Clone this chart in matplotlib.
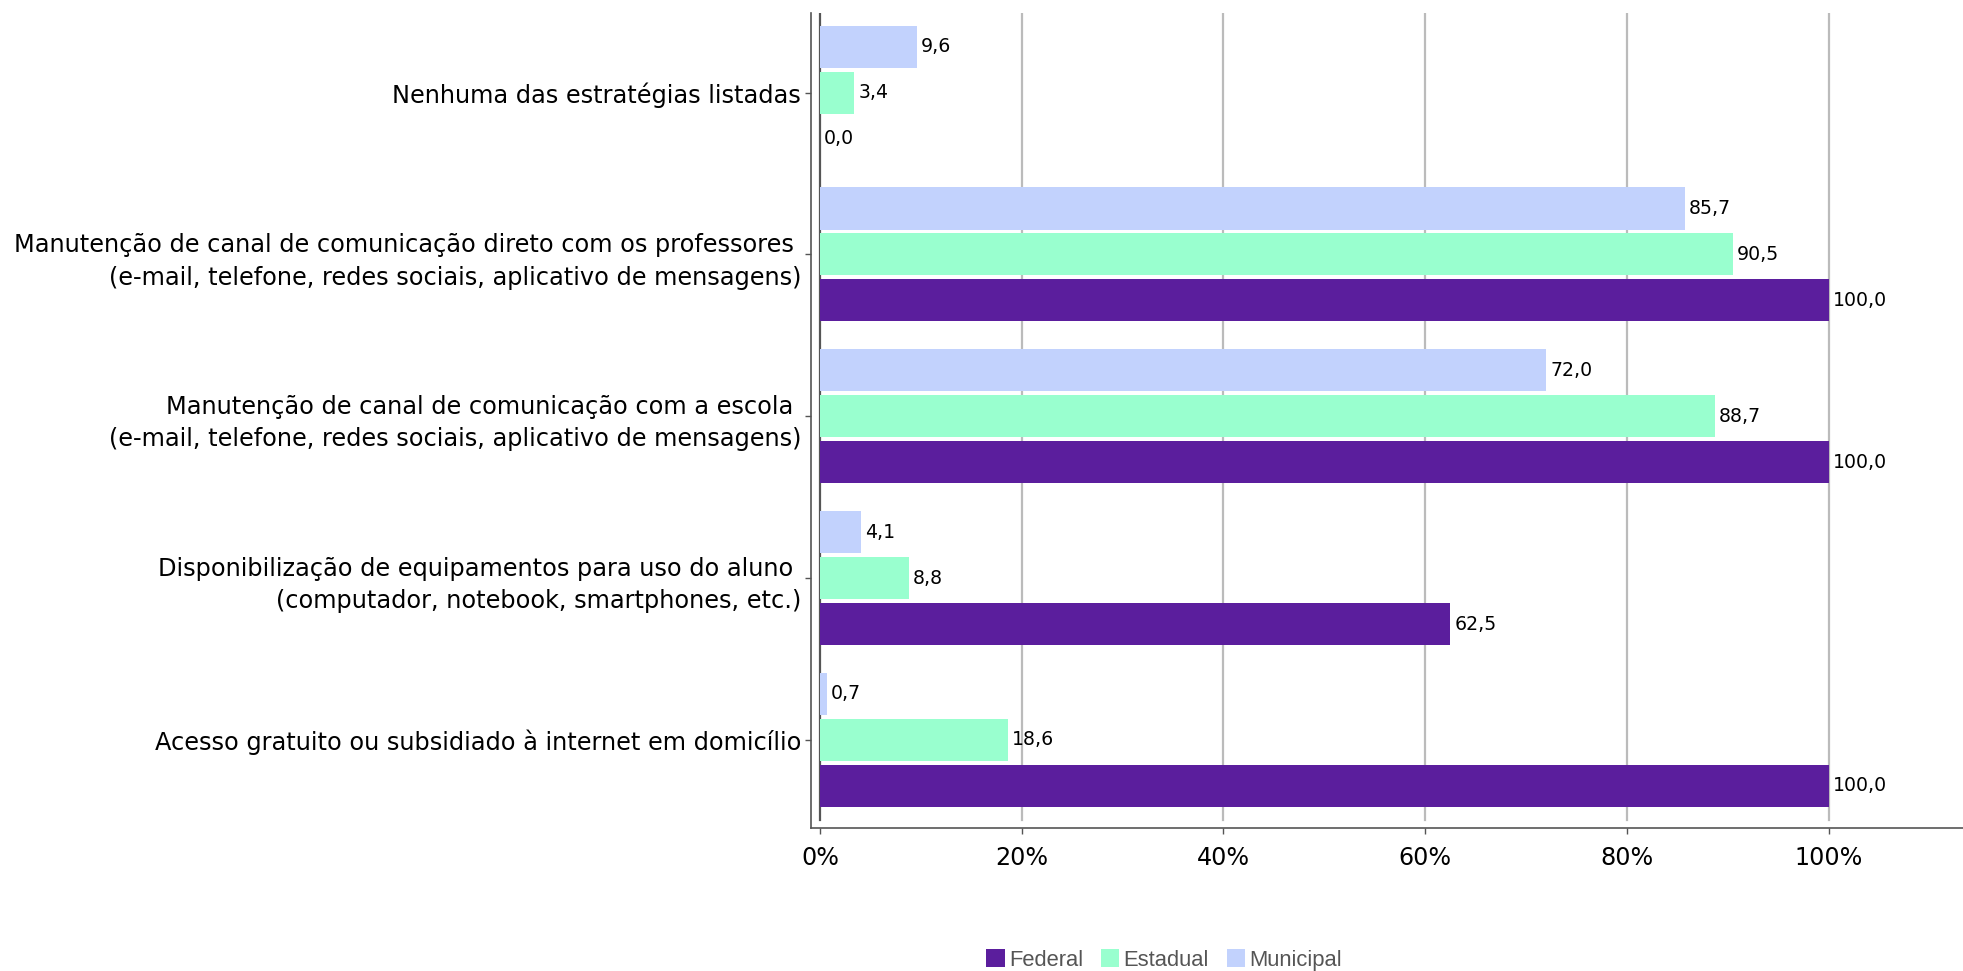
import matplotlib
matplotlib.use('Agg')
import matplotlib.pyplot as plt
import numpy as np

# Estratégias (de baixo para cima) e percentuais por rede
categorias = [
    'Acesso gratuito ou subsidiado à internet em domicílio',
    'Disponibilização de equipamentos para uso do aluno \n(computador, notebook, smartphones, etc.)',
    'Manutenção de canal de comunicação com a escola \n(e-mail, telefone, redes sociais, aplicativo de mensagens)',
    'Manutenção de canal de comunicação direto com os professores \n(e-mail, telefone, redes sociais, aplicativo de mensagens)',
    'Nenhuma das estratégias listadas',
]
federal = [100.0, 62.5, 100.0, 100.0, 0.0]
estadual = [18.6, 8.8, 88.7, 90.5, 3.4]
municipal = [0.7, 4.1, 72.0, 85.7, 9.6]

series = ['Federal', 'Estadual', 'Municipal']
cores = ['#5b1e9d', '#99ffcf', '#c2d2fd']
xticks = [0, 20, 40, 60, 80, 100]

fig = plt.figure(figsize=(19.63, 9.71), dpi=100)
ax = fig.add_axes([0.4131, 0.1473, 0.5869, 0.8398])

y = np.arange(len(categorias))
passo = 0.284
altura = 0.26
for i, (nome, vals, cor) in enumerate(zip(series, [federal, estadual, municipal], cores)):
    pos = y + (i - 1) * passo
    ax.barh(pos, vals, height=altura, color=cor, label=nome, zorder=3)
    for p, v in zip(pos, vals):
        ax.annotate(f'{v:.1f}'.replace('.', ','), (v, p), xytext=(4, 0),
                    textcoords='offset pixels', ha='left', va='center',
                    fontsize=13.6, color='black', zorder=4)

ax.set_xlim(-0.89, 113.3)
ax.set_ylim(-0.544, 4.495)

# linhas de grade verticais
for t in xticks:
    ax.axvline(t, ymin=0.01, ymax=1, color='#555555' if t == 0 else '#bbbbbb',
               linewidth=1.6, zorder=1)

ax.set_xticks(xticks)
ax.set_xticklabels([f'{t}%' for t in xticks], fontsize=17.2)
ax.set_yticks(y)
ax.set_yticklabels(categorias, fontsize=17.3, multialignment='right',
                   linespacing=1.45)
ax.tick_params(axis='x', length=4, width=1, color='#555555', pad=9)
ax.tick_params(axis='y', length=4, width=1, color='#555555', pad=3)

for s in ['top', 'right']:
    ax.spines[s].set_visible(False)
for s in ['left', 'bottom']:
    ax.spines[s].set_color('#555555')
    ax.spines[s].set_linewidth(1.2)

handles, labels = ax.get_legend_handles_labels()
leg = fig.legend(handles, labels, loc='center', bbox_to_anchor=(0.593, 0.0113),
                 ncol=3, frameon=False, handlelength=0.85, handleheight=0.85,
                 handletextpad=0.2, columnspacing=0.8,
                 prop={'family': 'Liberation Sans', 'size': 15.8})
for t in leg.get_texts():
    t.set_color('#555555')

fig.savefig('out.png', dpi=100)
